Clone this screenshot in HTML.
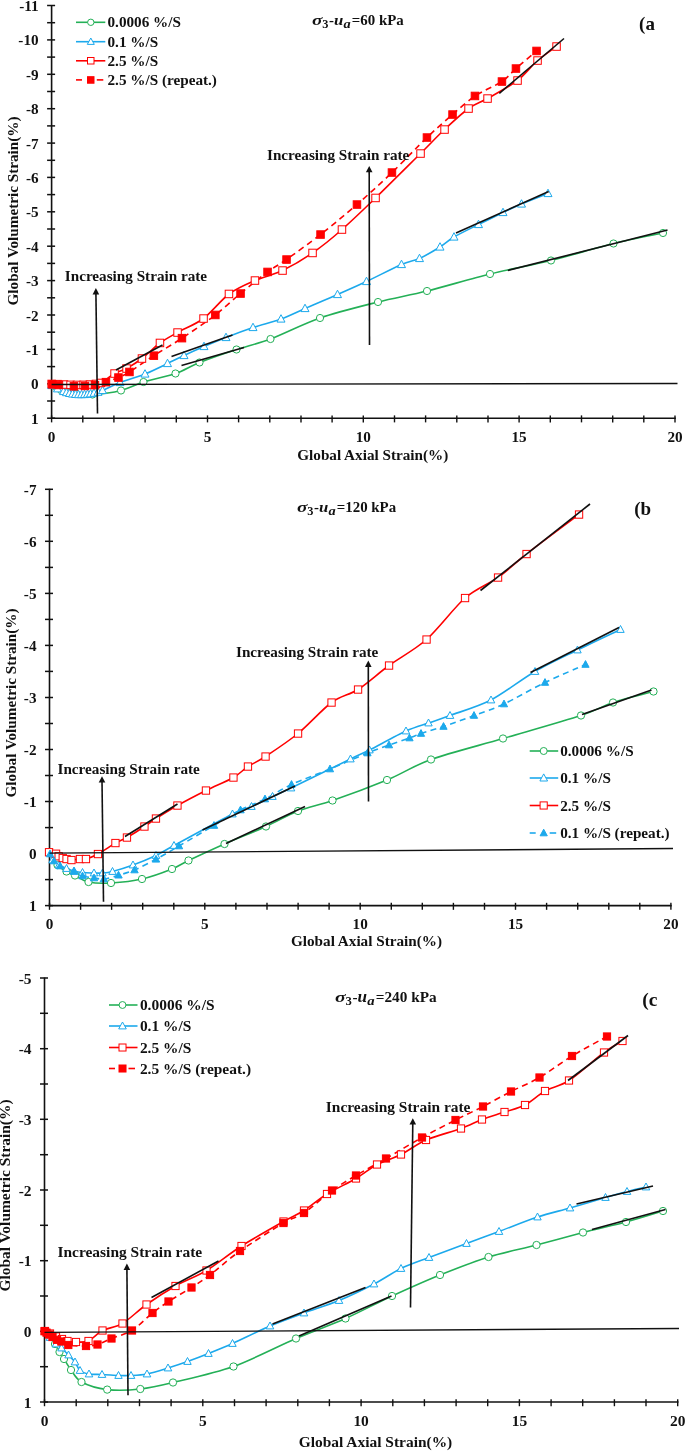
<!DOCTYPE html>
<html><head><meta charset="utf-8"><title>Strain rate figure</title>
<style>
html,body{margin:0;padding:0;background:#fff}
svg{display:block}
text{font-family:"Liberation Serif","DejaVu Serif",serif;font-weight:bold;fill:#111}
</style></head><body>
<svg width="685" height="1451" viewBox="0 0 685 1451">
<rect width="685" height="1451" fill="#fff"/>
<line x1="51.6" y1="5.0" x2="51.6" y2="418.98" stroke="#111" stroke-width="1.6"/>
<line x1="51.1" y1="418.18" x2="675.8000000000001" y2="418.18" stroke="#111" stroke-width="1.6"/>
<line x1="47.1" y1="5.5" x2="55.1" y2="5.5" stroke="#111" stroke-width="1.5"/>
<line x1="47.1" y1="22.7" x2="55.1" y2="22.7" stroke="#111" stroke-width="1.5"/>
<line x1="47.1" y1="39.9" x2="55.1" y2="39.9" stroke="#111" stroke-width="1.5"/>
<line x1="47.1" y1="57.1" x2="55.1" y2="57.1" stroke="#111" stroke-width="1.5"/>
<line x1="47.1" y1="74.3" x2="55.1" y2="74.3" stroke="#111" stroke-width="1.5"/>
<line x1="47.1" y1="91.5" x2="55.1" y2="91.5" stroke="#111" stroke-width="1.5"/>
<line x1="47.1" y1="108.7" x2="55.1" y2="108.7" stroke="#111" stroke-width="1.5"/>
<line x1="47.1" y1="125.9" x2="55.1" y2="125.9" stroke="#111" stroke-width="1.5"/>
<line x1="47.1" y1="143.1" x2="55.1" y2="143.1" stroke="#111" stroke-width="1.5"/>
<line x1="47.1" y1="160.3" x2="55.1" y2="160.3" stroke="#111" stroke-width="1.5"/>
<line x1="47.1" y1="177.4" x2="55.1" y2="177.4" stroke="#111" stroke-width="1.5"/>
<line x1="47.1" y1="194.6" x2="55.1" y2="194.6" stroke="#111" stroke-width="1.5"/>
<line x1="47.1" y1="211.8" x2="55.1" y2="211.8" stroke="#111" stroke-width="1.5"/>
<line x1="47.1" y1="229.0" x2="55.1" y2="229.0" stroke="#111" stroke-width="1.5"/>
<line x1="47.1" y1="246.2" x2="55.1" y2="246.2" stroke="#111" stroke-width="1.5"/>
<line x1="47.1" y1="263.4" x2="55.1" y2="263.4" stroke="#111" stroke-width="1.5"/>
<line x1="47.1" y1="280.6" x2="55.1" y2="280.6" stroke="#111" stroke-width="1.5"/>
<line x1="47.1" y1="297.8" x2="55.1" y2="297.8" stroke="#111" stroke-width="1.5"/>
<line x1="47.1" y1="315.0" x2="55.1" y2="315.0" stroke="#111" stroke-width="1.5"/>
<line x1="47.1" y1="332.2" x2="55.1" y2="332.2" stroke="#111" stroke-width="1.5"/>
<line x1="47.1" y1="349.4" x2="55.1" y2="349.4" stroke="#111" stroke-width="1.5"/>
<line x1="47.1" y1="366.6" x2="55.1" y2="366.6" stroke="#111" stroke-width="1.5"/>
<line x1="47.1" y1="383.8" x2="55.1" y2="383.8" stroke="#111" stroke-width="1.5"/>
<line x1="47.1" y1="401.0" x2="55.1" y2="401.0" stroke="#111" stroke-width="1.5"/>
<line x1="47.1" y1="418.2" x2="55.1" y2="418.2" stroke="#111" stroke-width="1.5"/>
<text x="38.6" y="11.0" font-size="15.2" text-anchor="end">-11</text>
<text x="38.6" y="45.4" font-size="15.2" text-anchor="end">-10</text>
<text x="38.6" y="79.8" font-size="15.2" text-anchor="end">-9</text>
<text x="38.6" y="114.2" font-size="15.2" text-anchor="end">-8</text>
<text x="38.6" y="148.6" font-size="15.2" text-anchor="end">-7</text>
<text x="38.6" y="182.9" font-size="15.2" text-anchor="end">-6</text>
<text x="38.6" y="217.3" font-size="15.2" text-anchor="end">-5</text>
<text x="38.6" y="251.7" font-size="15.2" text-anchor="end">-4</text>
<text x="38.6" y="286.1" font-size="15.2" text-anchor="end">-3</text>
<text x="38.6" y="320.5" font-size="15.2" text-anchor="end">-2</text>
<text x="38.6" y="354.9" font-size="15.2" text-anchor="end">-1</text>
<text x="38.6" y="389.3" font-size="15.2" text-anchor="end">0</text>
<text x="38.6" y="423.7" font-size="15.2" text-anchor="end">1</text>
<line x1="51.6" y1="415.38" x2="51.6" y2="422.38" stroke="#111" stroke-width="1.4"/>
<line x1="82.8" y1="415.38" x2="82.8" y2="422.38" stroke="#111" stroke-width="1.4"/>
<line x1="113.9" y1="415.38" x2="113.9" y2="422.38" stroke="#111" stroke-width="1.4"/>
<line x1="145.1" y1="415.38" x2="145.1" y2="422.38" stroke="#111" stroke-width="1.4"/>
<line x1="176.3" y1="415.38" x2="176.3" y2="422.38" stroke="#111" stroke-width="1.4"/>
<line x1="207.5" y1="415.38" x2="207.5" y2="422.38" stroke="#111" stroke-width="1.4"/>
<line x1="238.6" y1="415.38" x2="238.6" y2="422.38" stroke="#111" stroke-width="1.4"/>
<line x1="269.8" y1="415.38" x2="269.8" y2="422.38" stroke="#111" stroke-width="1.4"/>
<line x1="301.0" y1="415.38" x2="301.0" y2="422.38" stroke="#111" stroke-width="1.4"/>
<line x1="332.1" y1="415.38" x2="332.1" y2="422.38" stroke="#111" stroke-width="1.4"/>
<line x1="363.3" y1="415.38" x2="363.3" y2="422.38" stroke="#111" stroke-width="1.4"/>
<line x1="394.5" y1="415.38" x2="394.5" y2="422.38" stroke="#111" stroke-width="1.4"/>
<line x1="425.6" y1="415.38" x2="425.6" y2="422.38" stroke="#111" stroke-width="1.4"/>
<line x1="456.8" y1="415.38" x2="456.8" y2="422.38" stroke="#111" stroke-width="1.4"/>
<line x1="488.0" y1="415.38" x2="488.0" y2="422.38" stroke="#111" stroke-width="1.4"/>
<line x1="519.1" y1="415.38" x2="519.1" y2="422.38" stroke="#111" stroke-width="1.4"/>
<line x1="550.3" y1="415.38" x2="550.3" y2="422.38" stroke="#111" stroke-width="1.4"/>
<line x1="581.5" y1="415.38" x2="581.5" y2="422.38" stroke="#111" stroke-width="1.4"/>
<line x1="612.7" y1="415.38" x2="612.7" y2="422.38" stroke="#111" stroke-width="1.4"/>
<line x1="643.8" y1="415.38" x2="643.8" y2="422.38" stroke="#111" stroke-width="1.4"/>
<line x1="675.0" y1="415.38" x2="675.0" y2="422.38" stroke="#111" stroke-width="1.4"/>
<text x="51.6" y="442" font-size="15.2" text-anchor="middle">0</text>
<text x="207.5" y="442" font-size="15.2" text-anchor="middle">5</text>
<text x="363.3" y="442" font-size="15.2" text-anchor="middle">10</text>
<text x="519.1" y="442" font-size="15.2" text-anchor="middle">15</text>
<text x="675.0" y="442" font-size="15.2" text-anchor="middle">20</text>
<text x="372.8" y="459.7" font-size="15.2" text-anchor="middle">Global Axial Strain(%)</text>
<text transform="translate(17.8,211) rotate(-90)" font-size="15.2" text-anchor="middle">Global Volumetric Strain(%)</text>
<path d="M51.6,384.3 C52.3,384.7 54.6,386.1 56.0,387.0 C57.4,387.9 59.4,389.2 61.0,390.0 C62.6,390.8 64.8,391.8 67.0,392.3 C69.2,392.8 72.2,393.2 76.0,393.5 C79.8,393.8 85.8,394.9 92.5,394.5 C99.2,394.1 113.3,392.4 121.0,390.5 C128.7,388.6 135.3,384.6 143.5,382.0 C151.7,379.4 167.1,376.4 175.5,373.5 C183.9,370.6 190.3,366.1 199.5,362.5 C208.7,358.9 225.8,353.0 236.5,349.5 C247.2,346.0 258.0,343.7 270.5,339.0 C283.0,334.3 303.9,323.6 320.0,318.0 C336.1,312.4 361.9,306.1 378.0,302.0 C394.1,297.9 410.2,295.2 427.0,291.0 C443.8,286.8 471.4,278.6 490.0,274.0 C508.6,269.4 532.5,265.1 551.0,260.5 C569.5,255.9 596.7,247.6 613.5,243.5 C630.3,239.4 655.6,234.6 663.0,233.0" fill="none" stroke="#24b057" stroke-width="1.6" stroke-linejoin="round"/>
<path d="M51.6,385.5 C52.0,385.8 53.6,386.7 54.5,387.2 C55.4,387.7 56.6,388.3 57.5,388.8 C58.4,389.3 59.6,389.9 60.5,390.3 C61.4,390.7 62.6,391.2 63.5,391.5 C64.4,391.8 65.6,392.3 66.5,392.6 C67.4,392.9 68.6,393.2 69.5,393.4 C70.4,393.6 71.6,393.9 72.5,394.0 C73.4,394.1 74.6,394.3 75.5,394.4 C76.4,394.5 77.6,394.6 78.5,394.6 C79.4,394.6 80.6,394.6 81.5,394.6 C82.4,394.6 83.6,394.6 84.5,394.5 C85.4,394.4 86.6,394.3 87.5,394.2 C88.4,394.1 89.5,393.9 90.5,393.8 C91.5,393.7 92.9,393.4 94.0,393.2 C95.1,393.0 96.7,392.6 98.0,392.2 C99.3,391.8 99.2,392.0 102.5,390.5 C105.8,389.0 113.6,385.0 120.0,382.5 C126.4,380.0 137.9,376.9 145.0,374.0 C152.1,371.1 161.7,366.3 167.5,363.5 C173.3,360.7 178.5,358.1 184.0,355.5 C189.5,352.9 197.7,349.2 204.0,346.5 C210.3,343.8 218.7,340.4 226.0,337.5 C233.3,334.6 244.8,330.3 253.0,327.5 C261.2,324.7 273.2,321.9 281.0,319.0 C288.8,316.1 296.5,312.2 305.0,308.5 C313.5,304.8 328.3,298.6 337.5,294.5 C346.7,290.4 356.9,286.0 366.5,281.5 C376.1,277.0 393.6,267.9 401.5,264.5 C409.4,261.1 413.7,261.1 419.5,258.5 C425.3,255.9 434.8,250.2 440.0,247.0 C445.2,243.8 448.2,240.4 454.0,237.0 C459.8,233.6 471.1,228.2 478.5,224.5 C485.9,220.8 496.6,215.6 503.0,212.5 C509.4,209.4 514.8,206.8 521.5,204.0 C528.2,201.2 544.0,195.1 548.0,193.5" fill="none" stroke="#1ca9ec" stroke-width="1.6" stroke-linejoin="round"/>
<path d="M51.6,384.0 C52.3,384.0 54.6,384.0 56.0,384.0 C57.4,384.0 59.5,384.1 61.0,384.2 C62.5,384.3 64.5,384.4 66.0,384.5 C67.5,384.6 69.5,384.7 71.0,384.8 C72.5,384.9 74.5,385.0 76.0,385.0 C77.5,385.0 79.5,385.0 81.0,385.0 C82.5,385.0 84.5,384.9 86.0,384.8 C87.5,384.7 89.5,384.5 91.0,384.4 C92.5,384.3 94.5,384.2 96.0,384.0 C97.5,383.8 98.2,384.6 101.0,383.0 C103.8,381.4 110.7,375.7 114.5,373.5 C118.3,371.3 122.4,370.8 126.5,368.5 C130.6,366.2 137.0,362.3 142.0,358.5 C147.0,354.7 154.7,346.9 160.0,343.0 C165.3,339.1 171.0,336.2 177.5,332.5 C184.0,328.8 195.8,324.3 203.5,318.5 C211.2,312.7 221.3,299.7 229.0,294.0 C236.7,288.3 247.0,284.0 255.0,280.5 C263.0,277.0 273.9,274.6 282.5,270.5 C291.1,266.4 303.6,259.1 312.5,253.0 C321.4,246.8 332.6,237.8 342.0,229.5 C351.4,221.2 363.7,209.4 375.5,198.0 C387.3,186.6 410.1,163.8 420.5,153.5 C430.9,143.2 437.3,136.2 444.5,129.5 C451.7,122.8 462.1,113.2 468.5,108.5 C474.9,103.8 480.1,102.7 487.5,98.5 C494.9,94.3 510.0,86.2 517.5,80.5 C525.0,74.8 531.6,65.6 537.5,60.5 C543.4,55.4 553.6,48.6 556.5,46.5" fill="none" stroke="#ff0000" stroke-width="1.6" stroke-linejoin="round"/>
<path d="M52.4,384.4 C52.9,384.4 54.9,384.5 56.0,384.6 C57.1,384.7 58.6,384.9 60.0,385.0 C61.4,385.1 63.5,385.2 65.0,385.3 C66.5,385.4 68.5,385.4 70.0,385.6 C71.5,385.8 73.7,386.4 75.3,386.6 C76.9,386.8 78.9,386.8 80.5,386.8 C82.1,386.8 84.5,386.7 86.0,386.6 C87.5,386.5 89.2,386.2 90.5,386.0 C91.8,385.8 93.2,385.7 94.6,385.4 C96.0,385.1 98.3,384.5 100.0,384.0 C101.7,383.5 103.0,383.2 105.8,382.2 C108.6,381.2 114.9,379.0 118.4,377.5 C121.9,376.0 124.1,375.3 129.4,372.0 C134.7,368.7 145.9,360.7 153.8,355.6 C161.7,350.5 172.8,344.3 182.0,338.2 C191.2,332.1 206.5,321.7 215.3,315.0 C224.1,308.3 232.7,299.9 240.5,293.5 C248.3,287.1 260.6,277.1 267.5,272.0 C274.4,266.9 278.6,265.1 286.5,259.5 C294.4,253.9 309.9,242.8 320.5,234.5 C331.1,226.2 346.3,213.8 357.0,204.5 C367.7,195.2 381.5,182.6 392.0,172.5 C402.5,162.4 417.9,146.2 427.0,137.5 C436.1,128.8 445.3,120.7 452.5,114.5 C459.7,108.3 467.6,101.0 475.0,96.0 C482.4,91.0 495.9,85.6 502.0,81.5 C508.1,77.4 510.8,73.1 516.0,68.5 C521.2,63.9 533.4,53.6 536.5,51.0" fill="none" stroke="#ff0000" stroke-width="1.6" stroke-linejoin="round" stroke-dasharray="6,4.3"/>
<circle cx="51.6" cy="384.3" r="3.6" fill="#fff" stroke="#24b057" stroke-width="1"/>
<circle cx="56.0" cy="387.0" r="3.6" fill="#fff" stroke="#24b057" stroke-width="1"/>
<circle cx="61.0" cy="390.0" r="3.6" fill="#fff" stroke="#24b057" stroke-width="1"/>
<circle cx="67.0" cy="392.3" r="3.6" fill="#fff" stroke="#24b057" stroke-width="1"/>
<circle cx="76.0" cy="393.5" r="3.6" fill="#fff" stroke="#24b057" stroke-width="1"/>
<circle cx="92.5" cy="394.5" r="3.6" fill="#fff" stroke="#24b057" stroke-width="1"/>
<circle cx="121.0" cy="390.5" r="3.6" fill="#fff" stroke="#24b057" stroke-width="1"/>
<circle cx="143.5" cy="382.0" r="3.6" fill="#fff" stroke="#24b057" stroke-width="1"/>
<circle cx="175.5" cy="373.5" r="3.6" fill="#fff" stroke="#24b057" stroke-width="1"/>
<circle cx="199.5" cy="362.5" r="3.6" fill="#fff" stroke="#24b057" stroke-width="1"/>
<circle cx="236.5" cy="349.5" r="3.6" fill="#fff" stroke="#24b057" stroke-width="1"/>
<circle cx="270.5" cy="339.0" r="3.6" fill="#fff" stroke="#24b057" stroke-width="1"/>
<circle cx="320.0" cy="318.0" r="3.6" fill="#fff" stroke="#24b057" stroke-width="1"/>
<circle cx="378.0" cy="302.0" r="3.6" fill="#fff" stroke="#24b057" stroke-width="1"/>
<circle cx="427.0" cy="291.0" r="3.6" fill="#fff" stroke="#24b057" stroke-width="1"/>
<circle cx="490.0" cy="274.0" r="3.6" fill="#fff" stroke="#24b057" stroke-width="1"/>
<circle cx="551.0" cy="260.5" r="3.6" fill="#fff" stroke="#24b057" stroke-width="1"/>
<circle cx="613.5" cy="243.5" r="3.6" fill="#fff" stroke="#24b057" stroke-width="1"/>
<circle cx="663.0" cy="233.0" r="3.6" fill="#fff" stroke="#24b057" stroke-width="1"/>
<polygon points="51.6,381.2 47.6,388.6 55.6,388.6" fill="#fff" stroke="#1ca9ec" stroke-width="1" stroke-linejoin="miter"/>
<polygon points="57.5,384.5 53.5,391.9 61.5,391.9" fill="#fff" stroke="#1ca9ec" stroke-width="1" stroke-linejoin="miter"/>
<polygon points="63.5,387.2 59.5,394.6 67.5,394.6" fill="#fff" stroke="#1ca9ec" stroke-width="1" stroke-linejoin="miter"/>
<polygon points="66.5,388.3 62.5,395.7 70.5,395.7" fill="#fff" stroke="#1ca9ec" stroke-width="1" stroke-linejoin="miter"/>
<polygon points="69.5,389.1 65.5,396.5 73.5,396.5" fill="#fff" stroke="#1ca9ec" stroke-width="1" stroke-linejoin="miter"/>
<polygon points="72.5,389.7 68.5,397.1 76.5,397.1" fill="#fff" stroke="#1ca9ec" stroke-width="1" stroke-linejoin="miter"/>
<polygon points="75.5,390.1 71.5,397.5 79.5,397.5" fill="#fff" stroke="#1ca9ec" stroke-width="1" stroke-linejoin="miter"/>
<polygon points="78.5,390.3 74.5,397.7 82.5,397.7" fill="#fff" stroke="#1ca9ec" stroke-width="1" stroke-linejoin="miter"/>
<polygon points="81.5,390.3 77.5,397.7 85.5,397.7" fill="#fff" stroke="#1ca9ec" stroke-width="1" stroke-linejoin="miter"/>
<polygon points="84.5,390.2 80.5,397.6 88.5,397.6" fill="#fff" stroke="#1ca9ec" stroke-width="1" stroke-linejoin="miter"/>
<polygon points="87.5,389.9 83.5,397.3 91.5,397.3" fill="#fff" stroke="#1ca9ec" stroke-width="1" stroke-linejoin="miter"/>
<polygon points="90.5,389.5 86.5,396.9 94.5,396.9" fill="#fff" stroke="#1ca9ec" stroke-width="1" stroke-linejoin="miter"/>
<polygon points="94.0,388.9 90.0,396.3 98.0,396.3" fill="#fff" stroke="#1ca9ec" stroke-width="1" stroke-linejoin="miter"/>
<polygon points="98.0,387.9 94.0,395.3 102.0,395.3" fill="#fff" stroke="#1ca9ec" stroke-width="1" stroke-linejoin="miter"/>
<polygon points="102.5,386.2 98.5,393.6 106.5,393.6" fill="#fff" stroke="#1ca9ec" stroke-width="1" stroke-linejoin="miter"/>
<polygon points="120.0,378.2 116.0,385.6 124.0,385.6" fill="#fff" stroke="#1ca9ec" stroke-width="1" stroke-linejoin="miter"/>
<polygon points="145.0,369.7 141.0,377.1 149.0,377.1" fill="#fff" stroke="#1ca9ec" stroke-width="1" stroke-linejoin="miter"/>
<polygon points="167.5,359.2 163.5,366.6 171.5,366.6" fill="#fff" stroke="#1ca9ec" stroke-width="1" stroke-linejoin="miter"/>
<polygon points="184.0,351.2 180.0,358.6 188.0,358.6" fill="#fff" stroke="#1ca9ec" stroke-width="1" stroke-linejoin="miter"/>
<polygon points="204.0,342.2 200.0,349.6 208.0,349.6" fill="#fff" stroke="#1ca9ec" stroke-width="1" stroke-linejoin="miter"/>
<polygon points="226.0,333.2 222.0,340.6 230.0,340.6" fill="#fff" stroke="#1ca9ec" stroke-width="1" stroke-linejoin="miter"/>
<polygon points="253.0,323.2 249.0,330.6 257.0,330.6" fill="#fff" stroke="#1ca9ec" stroke-width="1" stroke-linejoin="miter"/>
<polygon points="281.0,314.7 277.0,322.1 285.0,322.1" fill="#fff" stroke="#1ca9ec" stroke-width="1" stroke-linejoin="miter"/>
<polygon points="305.0,304.2 301.0,311.6 309.0,311.6" fill="#fff" stroke="#1ca9ec" stroke-width="1" stroke-linejoin="miter"/>
<polygon points="337.5,290.2 333.5,297.6 341.5,297.6" fill="#fff" stroke="#1ca9ec" stroke-width="1" stroke-linejoin="miter"/>
<polygon points="366.5,277.2 362.5,284.6 370.5,284.6" fill="#fff" stroke="#1ca9ec" stroke-width="1" stroke-linejoin="miter"/>
<polygon points="401.5,260.2 397.5,267.6 405.5,267.6" fill="#fff" stroke="#1ca9ec" stroke-width="1" stroke-linejoin="miter"/>
<polygon points="419.5,254.2 415.5,261.6 423.5,261.6" fill="#fff" stroke="#1ca9ec" stroke-width="1" stroke-linejoin="miter"/>
<polygon points="440.0,242.7 436.0,250.1 444.0,250.1" fill="#fff" stroke="#1ca9ec" stroke-width="1" stroke-linejoin="miter"/>
<polygon points="454.0,232.7 450.0,240.1 458.0,240.1" fill="#fff" stroke="#1ca9ec" stroke-width="1" stroke-linejoin="miter"/>
<polygon points="478.5,220.2 474.5,227.6 482.5,227.6" fill="#fff" stroke="#1ca9ec" stroke-width="1" stroke-linejoin="miter"/>
<polygon points="503.0,208.2 499.0,215.6 507.0,215.6" fill="#fff" stroke="#1ca9ec" stroke-width="1" stroke-linejoin="miter"/>
<polygon points="521.5,199.7 517.5,207.1 525.5,207.1" fill="#fff" stroke="#1ca9ec" stroke-width="1" stroke-linejoin="miter"/>
<polygon points="548.0,189.2 544.0,196.6 552.0,196.6" fill="#fff" stroke="#1ca9ec" stroke-width="1" stroke-linejoin="miter"/>
<rect x="47.9" y="380.2" width="7.5" height="7.5" fill="#fff" stroke="#ff0000" stroke-width="1"/>
<rect x="53.8" y="380.4" width="7.5" height="7.5" fill="#fff" stroke="#ff0000" stroke-width="1"/>
<rect x="60.2" y="380.8" width="7.5" height="7.5" fill="#fff" stroke="#ff0000" stroke-width="1"/>
<rect x="66.8" y="381.1" width="7.5" height="7.5" fill="#fff" stroke="#ff0000" stroke-width="1"/>
<rect x="73.2" y="381.2" width="7.5" height="7.5" fill="#fff" stroke="#ff0000" stroke-width="1"/>
<rect x="79.8" y="381.1" width="7.5" height="7.5" fill="#fff" stroke="#ff0000" stroke-width="1"/>
<rect x="86.2" y="380.8" width="7.5" height="7.5" fill="#fff" stroke="#ff0000" stroke-width="1"/>
<rect x="92.2" y="380.2" width="7.5" height="7.5" fill="#fff" stroke="#ff0000" stroke-width="1"/>
<rect x="97.2" y="379.2" width="7.5" height="7.5" fill="#fff" stroke="#ff0000" stroke-width="1"/>
<rect x="110.8" y="369.8" width="7.5" height="7.5" fill="#fff" stroke="#ff0000" stroke-width="1"/>
<rect x="122.8" y="364.8" width="7.5" height="7.5" fill="#fff" stroke="#ff0000" stroke-width="1"/>
<rect x="138.2" y="354.8" width="7.5" height="7.5" fill="#fff" stroke="#ff0000" stroke-width="1"/>
<rect x="156.2" y="339.2" width="7.5" height="7.5" fill="#fff" stroke="#ff0000" stroke-width="1"/>
<rect x="173.8" y="328.8" width="7.5" height="7.5" fill="#fff" stroke="#ff0000" stroke-width="1"/>
<rect x="199.8" y="314.8" width="7.5" height="7.5" fill="#fff" stroke="#ff0000" stroke-width="1"/>
<rect x="225.2" y="290.2" width="7.5" height="7.5" fill="#fff" stroke="#ff0000" stroke-width="1"/>
<rect x="251.2" y="276.8" width="7.5" height="7.5" fill="#fff" stroke="#ff0000" stroke-width="1"/>
<rect x="278.8" y="266.8" width="7.5" height="7.5" fill="#fff" stroke="#ff0000" stroke-width="1"/>
<rect x="308.8" y="249.2" width="7.5" height="7.5" fill="#fff" stroke="#ff0000" stroke-width="1"/>
<rect x="338.2" y="225.8" width="7.5" height="7.5" fill="#fff" stroke="#ff0000" stroke-width="1"/>
<rect x="371.8" y="194.2" width="7.5" height="7.5" fill="#fff" stroke="#ff0000" stroke-width="1"/>
<rect x="416.8" y="149.8" width="7.5" height="7.5" fill="#fff" stroke="#ff0000" stroke-width="1"/>
<rect x="440.8" y="125.8" width="7.5" height="7.5" fill="#fff" stroke="#ff0000" stroke-width="1"/>
<rect x="464.8" y="104.8" width="7.5" height="7.5" fill="#fff" stroke="#ff0000" stroke-width="1"/>
<rect x="483.8" y="94.8" width="7.5" height="7.5" fill="#fff" stroke="#ff0000" stroke-width="1"/>
<rect x="513.8" y="76.8" width="7.5" height="7.5" fill="#fff" stroke="#ff0000" stroke-width="1"/>
<rect x="533.8" y="56.8" width="7.5" height="7.5" fill="#fff" stroke="#ff0000" stroke-width="1"/>
<rect x="552.8" y="42.8" width="7.5" height="7.5" fill="#fff" stroke="#ff0000" stroke-width="1"/>
<rect x="48.6" y="380.6" width="7.5" height="7.5" fill="#ff0000" stroke="#ff0000" stroke-width="1"/>
<rect x="55.2" y="381.2" width="7.5" height="7.5" fill="#ff0000" stroke="#ff0000" stroke-width="1"/>
<rect x="70.2" y="382.6" width="7.5" height="7.5" fill="#ff0000" stroke="#ff0000" stroke-width="1"/>
<rect x="81.2" y="382.2" width="7.5" height="7.5" fill="#ff0000" stroke="#ff0000" stroke-width="1"/>
<rect x="91.2" y="381.4" width="7.5" height="7.5" fill="#ff0000" stroke="#ff0000" stroke-width="1"/>
<rect x="102.2" y="378.4" width="7.5" height="7.5" fill="#ff0000" stroke="#ff0000" stroke-width="1"/>
<rect x="114.7" y="373.8" width="7.5" height="7.5" fill="#ff0000" stroke="#ff0000" stroke-width="1"/>
<rect x="125.7" y="368.2" width="7.5" height="7.5" fill="#ff0000" stroke="#ff0000" stroke-width="1"/>
<rect x="150.1" y="351.9" width="7.5" height="7.5" fill="#ff0000" stroke="#ff0000" stroke-width="1"/>
<rect x="178.2" y="334.4" width="7.5" height="7.5" fill="#ff0000" stroke="#ff0000" stroke-width="1"/>
<rect x="211.6" y="311.2" width="7.5" height="7.5" fill="#ff0000" stroke="#ff0000" stroke-width="1"/>
<rect x="236.8" y="289.8" width="7.5" height="7.5" fill="#ff0000" stroke="#ff0000" stroke-width="1"/>
<rect x="263.8" y="268.2" width="7.5" height="7.5" fill="#ff0000" stroke="#ff0000" stroke-width="1"/>
<rect x="282.8" y="255.8" width="7.5" height="7.5" fill="#ff0000" stroke="#ff0000" stroke-width="1"/>
<rect x="316.8" y="230.8" width="7.5" height="7.5" fill="#ff0000" stroke="#ff0000" stroke-width="1"/>
<rect x="353.2" y="200.8" width="7.5" height="7.5" fill="#ff0000" stroke="#ff0000" stroke-width="1"/>
<rect x="388.2" y="168.8" width="7.5" height="7.5" fill="#ff0000" stroke="#ff0000" stroke-width="1"/>
<rect x="423.2" y="133.8" width="7.5" height="7.5" fill="#ff0000" stroke="#ff0000" stroke-width="1"/>
<rect x="448.8" y="110.8" width="7.5" height="7.5" fill="#ff0000" stroke="#ff0000" stroke-width="1"/>
<rect x="471.2" y="92.2" width="7.5" height="7.5" fill="#ff0000" stroke="#ff0000" stroke-width="1"/>
<rect x="498.2" y="77.8" width="7.5" height="7.5" fill="#ff0000" stroke="#ff0000" stroke-width="1"/>
<rect x="512.2" y="64.8" width="7.5" height="7.5" fill="#ff0000" stroke="#ff0000" stroke-width="1"/>
<rect x="532.8" y="47.2" width="7.5" height="7.5" fill="#ff0000" stroke="#ff0000" stroke-width="1"/>
<line x1="116" y1="370" x2="162.5" y2="345" stroke="#111" stroke-width="1.6"/>
<line x1="171.5" y1="356.5" x2="232.5" y2="335" stroke="#111" stroke-width="1.6"/>
<line x1="181.5" y1="365.5" x2="244" y2="347.5" stroke="#111" stroke-width="1.6"/>
<line x1="499.3" y1="93.4" x2="564" y2="38.5" stroke="#111" stroke-width="1.6"/>
<line x1="456" y1="233" x2="548.7" y2="191.5" stroke="#111" stroke-width="1.6"/>
<line x1="507.8" y1="270.5" x2="667.5" y2="230" stroke="#111" stroke-width="1.6"/>
<line x1="51.6" y1="384.5" x2="677.5" y2="383.5" stroke="#111" stroke-width="1.3"/>
<line x1="97.5" y1="413.5" x2="95.9" y2="292.1" stroke="#111" stroke-width="1.6"/>
<polygon points="95.9,288.1 92.60000000000001,294.40000000000003 99.2,294.40000000000003" fill="#111"/>
<line x1="369.5" y1="345" x2="369.2" y2="170" stroke="#111" stroke-width="1.6"/>
<polygon points="369.2,166 365.9,172.3 372.5,172.3" fill="#111"/>
<text x="64.8" y="281" font-size="15.2" text-anchor="start">Increasing Strain rate</text>
<text x="267" y="160" font-size="15.2" text-anchor="start">Increasing Strain rate</text>
<g transform="translate(312,25.2) scale(1.0)">
<text x="0" y="0" font-size="15" font-style="italic" textLength="10.4" lengthAdjust="spacingAndGlyphs">σ</text>
<text x="10.3" y="2.8" font-size="12.3" textLength="6.2" lengthAdjust="spacingAndGlyphs">3</text>
<text x="17" y="0" font-size="14.9">-</text>
<text x="22" y="0" font-size="15.5" font-style="italic" textLength="9.3" lengthAdjust="spacingAndGlyphs">u</text>
<text x="31.6" y="2.8" font-size="11.5" font-style="italic" textLength="7.2" lengthAdjust="spacingAndGlyphs">a</text>
<text x="39.8" y="0" font-size="14.9">=60 kPa</text>
</g>
<text x="639.1" y="29.9" font-size="19" text-anchor="start">(a</text>
<line x1="76" y1="22.3" x2="105.3" y2="22.3" stroke="#24b057" stroke-width="1.6"/>
<circle cx="90.8" cy="22.3" r="3.2" fill="#fff" stroke="#24b057" stroke-width="1"/>
<text x="107.5" y="27.3" font-size="15.2" text-anchor="start">0.0006 %/S</text>
<line x1="76" y1="41.7" x2="105.3" y2="41.7" stroke="#1ca9ec" stroke-width="1.6"/>
<polygon points="90.8,38.0 87.3,44.4 94.3,44.4" fill="#fff" stroke="#1ca9ec" stroke-width="1" stroke-linejoin="miter"/>
<text x="107.5" y="46.7" font-size="15.2" text-anchor="start">0.1 %/S</text>
<line x1="76" y1="60.8" x2="105.3" y2="60.8" stroke="#ff0000" stroke-width="1.6"/>
<rect x="87.5" y="57.5" width="6.5" height="6.5" fill="#fff" stroke="#ff0000" stroke-width="1"/>
<text x="107.5" y="65.8" font-size="15.2" text-anchor="start">2.5 %/S</text>
<line x1="76" y1="79.9" x2="82" y2="79.9" stroke="#ff0000" stroke-width="1.6"/>
<line x1="96.8" y1="79.9" x2="103.3" y2="79.9" stroke="#ff0000" stroke-width="1.6"/>
<rect x="87.5" y="76.7" width="6.5" height="6.5" fill="#ff0000" stroke="#ff0000" stroke-width="1"/>
<text x="107.5" y="84.9" font-size="15.2" text-anchor="start">2.5 %/S (repeat.)</text>
<line x1="49.5" y1="488.8" x2="49.5" y2="906.42" stroke="#111" stroke-width="1.6"/>
<line x1="49.0" y1="905.62" x2="671.6999999999999" y2="905.62" stroke="#111" stroke-width="1.6"/>
<line x1="45.0" y1="489.3" x2="53.0" y2="489.3" stroke="#111" stroke-width="1.5"/>
<line x1="45.0" y1="515.3" x2="53.0" y2="515.3" stroke="#111" stroke-width="1.5"/>
<line x1="45.0" y1="541.3" x2="53.0" y2="541.3" stroke="#111" stroke-width="1.5"/>
<line x1="45.0" y1="567.4" x2="53.0" y2="567.4" stroke="#111" stroke-width="1.5"/>
<line x1="45.0" y1="593.4" x2="53.0" y2="593.4" stroke="#111" stroke-width="1.5"/>
<line x1="45.0" y1="619.4" x2="53.0" y2="619.4" stroke="#111" stroke-width="1.5"/>
<line x1="45.0" y1="645.4" x2="53.0" y2="645.4" stroke="#111" stroke-width="1.5"/>
<line x1="45.0" y1="671.4" x2="53.0" y2="671.4" stroke="#111" stroke-width="1.5"/>
<line x1="45.0" y1="697.5" x2="53.0" y2="697.5" stroke="#111" stroke-width="1.5"/>
<line x1="45.0" y1="723.5" x2="53.0" y2="723.5" stroke="#111" stroke-width="1.5"/>
<line x1="45.0" y1="749.5" x2="53.0" y2="749.5" stroke="#111" stroke-width="1.5"/>
<line x1="45.0" y1="775.5" x2="53.0" y2="775.5" stroke="#111" stroke-width="1.5"/>
<line x1="45.0" y1="801.5" x2="53.0" y2="801.5" stroke="#111" stroke-width="1.5"/>
<line x1="45.0" y1="827.6" x2="53.0" y2="827.6" stroke="#111" stroke-width="1.5"/>
<line x1="45.0" y1="853.6" x2="53.0" y2="853.6" stroke="#111" stroke-width="1.5"/>
<line x1="45.0" y1="879.6" x2="53.0" y2="879.6" stroke="#111" stroke-width="1.5"/>
<line x1="45.0" y1="905.6" x2="53.0" y2="905.6" stroke="#111" stroke-width="1.5"/>
<text x="36.5" y="494.8" font-size="15.2" text-anchor="end">-7</text>
<text x="36.5" y="546.8" font-size="15.2" text-anchor="end">-6</text>
<text x="36.5" y="598.9" font-size="15.2" text-anchor="end">-5</text>
<text x="36.5" y="650.9" font-size="15.2" text-anchor="end">-4</text>
<text x="36.5" y="703.0" font-size="15.2" text-anchor="end">-3</text>
<text x="36.5" y="755.0" font-size="15.2" text-anchor="end">-2</text>
<text x="36.5" y="807.0" font-size="15.2" text-anchor="end">-1</text>
<text x="36.5" y="859.1" font-size="15.2" text-anchor="end">0</text>
<text x="36.5" y="911.1" font-size="15.2" text-anchor="end">1</text>
<line x1="49.5" y1="902.82" x2="49.5" y2="909.82" stroke="#111" stroke-width="1.4"/>
<line x1="80.6" y1="902.82" x2="80.6" y2="909.82" stroke="#111" stroke-width="1.4"/>
<line x1="111.6" y1="902.82" x2="111.6" y2="909.82" stroke="#111" stroke-width="1.4"/>
<line x1="142.7" y1="902.82" x2="142.7" y2="909.82" stroke="#111" stroke-width="1.4"/>
<line x1="173.8" y1="902.82" x2="173.8" y2="909.82" stroke="#111" stroke-width="1.4"/>
<line x1="204.8" y1="902.82" x2="204.8" y2="909.82" stroke="#111" stroke-width="1.4"/>
<line x1="235.9" y1="902.82" x2="235.9" y2="909.82" stroke="#111" stroke-width="1.4"/>
<line x1="267.0" y1="902.82" x2="267.0" y2="909.82" stroke="#111" stroke-width="1.4"/>
<line x1="298.1" y1="902.82" x2="298.1" y2="909.82" stroke="#111" stroke-width="1.4"/>
<line x1="329.1" y1="902.82" x2="329.1" y2="909.82" stroke="#111" stroke-width="1.4"/>
<line x1="360.2" y1="902.82" x2="360.2" y2="909.82" stroke="#111" stroke-width="1.4"/>
<line x1="391.3" y1="902.82" x2="391.3" y2="909.82" stroke="#111" stroke-width="1.4"/>
<line x1="422.3" y1="902.82" x2="422.3" y2="909.82" stroke="#111" stroke-width="1.4"/>
<line x1="453.4" y1="902.82" x2="453.4" y2="909.82" stroke="#111" stroke-width="1.4"/>
<line x1="484.5" y1="902.82" x2="484.5" y2="909.82" stroke="#111" stroke-width="1.4"/>
<line x1="515.5" y1="902.82" x2="515.5" y2="909.82" stroke="#111" stroke-width="1.4"/>
<line x1="546.6" y1="902.82" x2="546.6" y2="909.82" stroke="#111" stroke-width="1.4"/>
<line x1="577.7" y1="902.82" x2="577.7" y2="909.82" stroke="#111" stroke-width="1.4"/>
<line x1="608.8" y1="902.82" x2="608.8" y2="909.82" stroke="#111" stroke-width="1.4"/>
<line x1="639.8" y1="902.82" x2="639.8" y2="909.82" stroke="#111" stroke-width="1.4"/>
<line x1="670.9" y1="902.82" x2="670.9" y2="909.82" stroke="#111" stroke-width="1.4"/>
<text x="49.5" y="928.5" font-size="15.2" text-anchor="middle">0</text>
<text x="204.8" y="928.5" font-size="15.2" text-anchor="middle">5</text>
<text x="360.2" y="928.5" font-size="15.2" text-anchor="middle">10</text>
<text x="515.5" y="928.5" font-size="15.2" text-anchor="middle">15</text>
<text x="670.9" y="928.5" font-size="15.2" text-anchor="middle">20</text>
<text x="366.5" y="945.6" font-size="15.2" text-anchor="middle">Global Axial Strain(%)</text>
<text transform="translate(15.8,703) rotate(-90)" font-size="15.2" text-anchor="middle">Global Volumetric Strain(%)</text>
<path d="M49.6,852.5 C50.8,854.4 55.0,862.1 57.5,865.0 C60.0,867.9 63.9,869.9 66.5,871.5 C69.1,873.1 71.7,873.9 75.0,875.5 C78.3,877.1 83.1,880.9 88.5,882.0 C93.9,883.1 103.0,883.5 111.0,883.0 C119.0,882.5 132.8,881.1 142.0,879.0 C151.2,876.9 165.0,871.8 172.0,869.0 C179.0,866.2 180.6,864.2 188.5,860.5 C196.4,856.8 212.9,849.1 224.5,844.0 C236.1,838.9 255.0,831.5 266.0,826.5 C277.0,821.5 288.0,814.9 298.0,811.0 C308.0,807.1 319.1,805.1 332.5,800.5 C345.9,795.9 372.2,786.1 387.0,780.0 C401.8,773.9 413.6,765.7 431.0,759.5 C448.4,753.3 480.5,745.1 503.0,738.5 C525.5,731.9 564.5,720.9 581.0,715.5 C597.5,710.1 602.1,706.1 613.0,702.5 C623.9,698.9 647.4,693.1 653.5,691.5" fill="none" stroke="#24b057" stroke-width="1.6" stroke-linejoin="round"/>
<path d="M49.6,852.5 C50.0,853.6 51.1,858.1 52.5,860.0 C53.9,861.9 56.9,863.7 59.0,865.0 C61.1,866.3 64.2,867.6 66.5,868.5 C68.8,869.4 71.6,870.4 74.0,871.0 C76.4,871.6 79.5,872.2 82.5,872.5 C85.5,872.8 91.0,872.9 94.0,873.0 C97.0,873.1 99.7,873.2 102.5,873.0 C105.3,872.8 107.9,872.7 112.5,871.5 C117.1,870.3 126.5,867.4 133.0,865.0 C139.5,862.6 149.8,858.4 156.0,855.5 C162.2,852.6 162.5,851.7 174.0,845.5 C185.5,839.3 220.9,819.9 232.5,814.0 C244.1,808.1 245.5,809.1 251.5,806.5 C257.5,803.9 266.6,799.3 272.5,796.5 C278.4,793.7 279.3,793.6 291.0,788.0 C302.7,782.4 338.7,764.7 350.5,759.0 C362.3,753.3 361.2,754.2 369.5,750.0 C377.8,745.8 397.1,735.0 406.0,731.0 C414.9,727.0 421.9,725.3 428.5,723.0 C435.1,720.7 440.6,719.0 450.0,715.5 C459.4,712.0 478.2,706.6 491.0,700.0 C503.8,693.4 522.0,679.0 535.0,671.5 C548.0,664.0 564.7,656.3 577.5,650.0 C590.3,643.7 614.0,632.6 620.5,629.5" fill="none" stroke="#1ca9ec" stroke-width="1.6" stroke-linejoin="round"/>
<path d="M49.0,852.3 C50.0,852.5 54.6,853.2 56.0,853.8 C57.4,854.4 57.6,855.6 58.6,856.2 C59.6,856.8 61.6,857.6 62.8,858.0 C64.0,858.4 65.2,858.7 66.5,859.0 C67.8,859.3 69.5,860.0 71.5,860.0 C73.5,860.0 77.8,859.1 80.0,859.0 C82.2,858.9 83.3,859.8 86.0,859.0 C88.7,858.2 93.6,856.4 98.0,854.0 C102.4,851.6 111.2,845.5 115.5,843.0 C119.8,840.5 122.7,840.0 127.0,837.5 C131.3,835.0 140.2,829.4 144.5,826.5 C148.8,823.6 151.1,821.6 156.0,818.5 C160.9,815.4 170.0,809.7 177.5,805.5 C185.0,801.3 197.6,794.7 206.0,790.5 C214.4,786.3 227.2,781.1 233.5,777.5 C239.8,773.9 243.2,769.6 248.0,766.5 C252.8,763.4 258.0,761.5 265.5,756.5 C273.0,751.5 288.1,741.6 298.0,733.5 C307.9,725.4 322.5,709.1 331.5,702.5 C340.5,695.9 349.4,695.0 358.0,689.5 C366.6,684.0 378.7,673.0 389.0,665.5 C399.3,658.0 415.1,649.6 426.5,639.5 C437.9,629.4 454.3,607.3 465.0,598.0 C475.7,588.7 488.8,584.1 498.0,577.5 C507.2,570.9 514.4,563.5 526.5,554.0 C538.6,544.5 571.1,520.4 579.0,514.5" fill="none" stroke="#ff0000" stroke-width="1.6" stroke-linejoin="round"/>
<path d="M50.0,854.0 C50.6,855.0 52.5,859.2 54.0,861.0 C55.5,862.8 57.0,864.4 60.0,866.0 C63.0,867.6 70.6,870.0 74.0,871.5 C77.4,873.0 79.5,875.0 82.5,876.0 C85.5,877.0 90.8,877.5 94.0,878.0 C97.2,878.5 100.1,879.4 103.8,879.0 C107.5,878.6 113.9,876.6 118.5,875.2 C123.1,873.9 128.9,872.4 134.5,870.0 C140.1,867.6 149.3,862.9 156.0,859.3 C162.7,855.7 170.3,851.1 179.0,846.0 C187.7,840.9 204.8,830.9 214.0,825.5 C223.2,820.1 232.8,814.0 240.5,810.0 C248.2,806.0 257.4,802.8 265.0,799.0 C272.6,795.2 281.8,789.0 291.5,784.5 C301.2,780.0 318.6,773.7 330.0,769.0 C341.4,764.3 358.6,756.6 367.5,753.0 C376.4,749.4 382.7,747.2 389.0,745.0 C395.3,742.8 404.7,739.7 409.5,738.0 C414.3,736.3 415.9,735.2 421.0,733.5 C426.1,731.8 435.6,729.2 443.5,726.5 C451.4,723.8 464.9,718.9 474.0,715.5 C483.1,712.1 493.4,709.0 504.0,704.0 C514.6,699.0 532.8,688.4 545.0,682.5 C557.2,676.6 579.4,667.2 585.5,664.5" fill="none" stroke="#1ca9ec" stroke-width="1.6" stroke-linejoin="round" stroke-dasharray="6,4.3"/>
<circle cx="49.6" cy="852.5" r="3.65" fill="#fff" stroke="#24b057" stroke-width="1"/>
<circle cx="57.5" cy="865.0" r="3.65" fill="#fff" stroke="#24b057" stroke-width="1"/>
<circle cx="66.5" cy="871.5" r="3.65" fill="#fff" stroke="#24b057" stroke-width="1"/>
<circle cx="75.0" cy="875.5" r="3.65" fill="#fff" stroke="#24b057" stroke-width="1"/>
<circle cx="88.5" cy="882.0" r="3.65" fill="#fff" stroke="#24b057" stroke-width="1"/>
<circle cx="111.0" cy="883.0" r="3.65" fill="#fff" stroke="#24b057" stroke-width="1"/>
<circle cx="142.0" cy="879.0" r="3.65" fill="#fff" stroke="#24b057" stroke-width="1"/>
<circle cx="172.0" cy="869.0" r="3.65" fill="#fff" stroke="#24b057" stroke-width="1"/>
<circle cx="188.5" cy="860.5" r="3.65" fill="#fff" stroke="#24b057" stroke-width="1"/>
<circle cx="224.5" cy="844.0" r="3.65" fill="#fff" stroke="#24b057" stroke-width="1"/>
<circle cx="266.0" cy="826.5" r="3.65" fill="#fff" stroke="#24b057" stroke-width="1"/>
<circle cx="298.0" cy="811.0" r="3.65" fill="#fff" stroke="#24b057" stroke-width="1"/>
<circle cx="332.5" cy="800.5" r="3.65" fill="#fff" stroke="#24b057" stroke-width="1"/>
<circle cx="387.0" cy="780.0" r="3.65" fill="#fff" stroke="#24b057" stroke-width="1"/>
<circle cx="431.0" cy="759.5" r="3.65" fill="#fff" stroke="#24b057" stroke-width="1"/>
<circle cx="503.0" cy="738.5" r="3.65" fill="#fff" stroke="#24b057" stroke-width="1"/>
<circle cx="581.0" cy="715.5" r="3.65" fill="#fff" stroke="#24b057" stroke-width="1"/>
<circle cx="613.0" cy="702.5" r="3.65" fill="#fff" stroke="#24b057" stroke-width="1"/>
<circle cx="653.5" cy="691.5" r="3.65" fill="#fff" stroke="#24b057" stroke-width="1"/>
<polygon points="49.6,848.5 45.9,855.4 53.4,855.4" fill="#fff" stroke="#1ca9ec" stroke-width="1" stroke-linejoin="miter"/>
<polygon points="52.5,856.0 48.8,862.9 56.2,862.9" fill="#fff" stroke="#1ca9ec" stroke-width="1" stroke-linejoin="miter"/>
<polygon points="59.0,861.0 55.2,867.9 62.8,867.9" fill="#fff" stroke="#1ca9ec" stroke-width="1" stroke-linejoin="miter"/>
<polygon points="66.5,864.5 62.8,871.4 70.2,871.4" fill="#fff" stroke="#1ca9ec" stroke-width="1" stroke-linejoin="miter"/>
<polygon points="74.0,867.0 70.2,873.9 77.8,873.9" fill="#fff" stroke="#1ca9ec" stroke-width="1" stroke-linejoin="miter"/>
<polygon points="82.5,868.5 78.8,875.4 86.2,875.4" fill="#fff" stroke="#1ca9ec" stroke-width="1" stroke-linejoin="miter"/>
<polygon points="94.0,869.0 90.2,875.9 97.8,875.9" fill="#fff" stroke="#1ca9ec" stroke-width="1" stroke-linejoin="miter"/>
<polygon points="102.5,869.0 98.8,875.9 106.2,875.9" fill="#fff" stroke="#1ca9ec" stroke-width="1" stroke-linejoin="miter"/>
<polygon points="112.5,867.5 108.8,874.4 116.2,874.4" fill="#fff" stroke="#1ca9ec" stroke-width="1" stroke-linejoin="miter"/>
<polygon points="133.0,861.0 129.2,867.9 136.8,867.9" fill="#fff" stroke="#1ca9ec" stroke-width="1" stroke-linejoin="miter"/>
<polygon points="156.0,851.5 152.2,858.4 159.8,858.4" fill="#fff" stroke="#1ca9ec" stroke-width="1" stroke-linejoin="miter"/>
<polygon points="174.0,841.5 170.2,848.4 177.8,848.4" fill="#fff" stroke="#1ca9ec" stroke-width="1" stroke-linejoin="miter"/>
<polygon points="232.5,810.0 228.8,816.9 236.2,816.9" fill="#fff" stroke="#1ca9ec" stroke-width="1" stroke-linejoin="miter"/>
<polygon points="251.5,802.5 247.8,809.4 255.2,809.4" fill="#fff" stroke="#1ca9ec" stroke-width="1" stroke-linejoin="miter"/>
<polygon points="272.5,792.5 268.8,799.4 276.2,799.4" fill="#fff" stroke="#1ca9ec" stroke-width="1" stroke-linejoin="miter"/>
<polygon points="291.0,784.0 287.2,790.9 294.8,790.9" fill="#fff" stroke="#1ca9ec" stroke-width="1" stroke-linejoin="miter"/>
<polygon points="350.5,755.0 346.8,761.9 354.2,761.9" fill="#fff" stroke="#1ca9ec" stroke-width="1" stroke-linejoin="miter"/>
<polygon points="369.5,746.0 365.8,752.9 373.2,752.9" fill="#fff" stroke="#1ca9ec" stroke-width="1" stroke-linejoin="miter"/>
<polygon points="406.0,727.0 402.2,733.9 409.8,733.9" fill="#fff" stroke="#1ca9ec" stroke-width="1" stroke-linejoin="miter"/>
<polygon points="428.5,719.0 424.8,725.9 432.2,725.9" fill="#fff" stroke="#1ca9ec" stroke-width="1" stroke-linejoin="miter"/>
<polygon points="450.0,711.5 446.2,718.4 453.8,718.4" fill="#fff" stroke="#1ca9ec" stroke-width="1" stroke-linejoin="miter"/>
<polygon points="491.0,696.0 487.2,702.9 494.8,702.9" fill="#fff" stroke="#1ca9ec" stroke-width="1" stroke-linejoin="miter"/>
<polygon points="535.0,667.5 531.2,674.4 538.8,674.4" fill="#fff" stroke="#1ca9ec" stroke-width="1" stroke-linejoin="miter"/>
<polygon points="577.5,646.0 573.8,652.9 581.2,652.9" fill="#fff" stroke="#1ca9ec" stroke-width="1" stroke-linejoin="miter"/>
<polygon points="620.5,625.5 616.8,632.4 624.2,632.4" fill="#fff" stroke="#1ca9ec" stroke-width="1" stroke-linejoin="miter"/>
<rect x="45.4" y="848.6" width="7.3" height="7.3" fill="#fff" stroke="#ff0000" stroke-width="1"/>
<rect x="52.4" y="850.1" width="7.3" height="7.3" fill="#fff" stroke="#ff0000" stroke-width="1"/>
<rect x="55.0" y="852.6" width="7.3" height="7.3" fill="#fff" stroke="#ff0000" stroke-width="1"/>
<rect x="59.1" y="854.4" width="7.3" height="7.3" fill="#fff" stroke="#ff0000" stroke-width="1"/>
<rect x="62.9" y="855.4" width="7.3" height="7.3" fill="#fff" stroke="#ff0000" stroke-width="1"/>
<rect x="67.8" y="856.4" width="7.3" height="7.3" fill="#fff" stroke="#ff0000" stroke-width="1"/>
<rect x="76.3" y="855.4" width="7.3" height="7.3" fill="#fff" stroke="#ff0000" stroke-width="1"/>
<rect x="82.3" y="855.4" width="7.3" height="7.3" fill="#fff" stroke="#ff0000" stroke-width="1"/>
<rect x="94.3" y="850.4" width="7.3" height="7.3" fill="#fff" stroke="#ff0000" stroke-width="1"/>
<rect x="111.8" y="839.4" width="7.3" height="7.3" fill="#fff" stroke="#ff0000" stroke-width="1"/>
<rect x="123.3" y="833.9" width="7.3" height="7.3" fill="#fff" stroke="#ff0000" stroke-width="1"/>
<rect x="140.8" y="822.9" width="7.3" height="7.3" fill="#fff" stroke="#ff0000" stroke-width="1"/>
<rect x="152.3" y="814.9" width="7.3" height="7.3" fill="#fff" stroke="#ff0000" stroke-width="1"/>
<rect x="173.8" y="801.9" width="7.3" height="7.3" fill="#fff" stroke="#ff0000" stroke-width="1"/>
<rect x="202.3" y="786.9" width="7.3" height="7.3" fill="#fff" stroke="#ff0000" stroke-width="1"/>
<rect x="229.8" y="773.9" width="7.3" height="7.3" fill="#fff" stroke="#ff0000" stroke-width="1"/>
<rect x="244.3" y="762.9" width="7.3" height="7.3" fill="#fff" stroke="#ff0000" stroke-width="1"/>
<rect x="261.9" y="752.9" width="7.3" height="7.3" fill="#fff" stroke="#ff0000" stroke-width="1"/>
<rect x="294.4" y="729.9" width="7.3" height="7.3" fill="#fff" stroke="#ff0000" stroke-width="1"/>
<rect x="327.9" y="698.9" width="7.3" height="7.3" fill="#fff" stroke="#ff0000" stroke-width="1"/>
<rect x="354.4" y="685.9" width="7.3" height="7.3" fill="#fff" stroke="#ff0000" stroke-width="1"/>
<rect x="385.4" y="661.9" width="7.3" height="7.3" fill="#fff" stroke="#ff0000" stroke-width="1"/>
<rect x="422.9" y="635.9" width="7.3" height="7.3" fill="#fff" stroke="#ff0000" stroke-width="1"/>
<rect x="461.4" y="594.4" width="7.3" height="7.3" fill="#fff" stroke="#ff0000" stroke-width="1"/>
<rect x="494.4" y="573.9" width="7.3" height="7.3" fill="#fff" stroke="#ff0000" stroke-width="1"/>
<rect x="522.9" y="550.4" width="7.3" height="7.3" fill="#fff" stroke="#ff0000" stroke-width="1"/>
<rect x="575.4" y="510.9" width="7.3" height="7.3" fill="#fff" stroke="#ff0000" stroke-width="1"/>
<polygon points="50.0,850.1 46.4,856.8 53.6,856.8" fill="#1ca9ec" stroke="#1ca9ec" stroke-width="1" stroke-linejoin="miter"/>
<polygon points="54.0,857.1 50.4,863.8 57.6,863.8" fill="#1ca9ec" stroke="#1ca9ec" stroke-width="1" stroke-linejoin="miter"/>
<polygon points="60.0,862.1 56.4,868.8 63.6,868.8" fill="#1ca9ec" stroke="#1ca9ec" stroke-width="1" stroke-linejoin="miter"/>
<polygon points="74.0,867.6 70.3,874.3 77.7,874.3" fill="#1ca9ec" stroke="#1ca9ec" stroke-width="1" stroke-linejoin="miter"/>
<polygon points="82.5,872.1 78.8,878.8 86.2,878.8" fill="#1ca9ec" stroke="#1ca9ec" stroke-width="1" stroke-linejoin="miter"/>
<polygon points="94.0,874.1 90.3,880.8 97.7,880.8" fill="#1ca9ec" stroke="#1ca9ec" stroke-width="1" stroke-linejoin="miter"/>
<polygon points="103.8,875.1 100.1,881.8 107.5,881.8" fill="#1ca9ec" stroke="#1ca9ec" stroke-width="1" stroke-linejoin="miter"/>
<polygon points="118.5,871.3 114.8,878.0 122.2,878.0" fill="#1ca9ec" stroke="#1ca9ec" stroke-width="1" stroke-linejoin="miter"/>
<polygon points="134.5,866.1 130.8,872.8 138.2,872.8" fill="#1ca9ec" stroke="#1ca9ec" stroke-width="1" stroke-linejoin="miter"/>
<polygon points="156.0,855.4 152.3,862.1 159.7,862.1" fill="#1ca9ec" stroke="#1ca9ec" stroke-width="1" stroke-linejoin="miter"/>
<polygon points="179.0,842.1 175.3,848.8 182.7,848.8" fill="#1ca9ec" stroke="#1ca9ec" stroke-width="1" stroke-linejoin="miter"/>
<polygon points="214.0,821.6 210.3,828.3 217.7,828.3" fill="#1ca9ec" stroke="#1ca9ec" stroke-width="1" stroke-linejoin="miter"/>
<polygon points="240.5,806.1 236.8,812.8 244.2,812.8" fill="#1ca9ec" stroke="#1ca9ec" stroke-width="1" stroke-linejoin="miter"/>
<polygon points="265.0,795.1 261.4,801.8 268.6,801.8" fill="#1ca9ec" stroke="#1ca9ec" stroke-width="1" stroke-linejoin="miter"/>
<polygon points="291.5,780.6 287.9,787.3 295.1,787.3" fill="#1ca9ec" stroke="#1ca9ec" stroke-width="1" stroke-linejoin="miter"/>
<polygon points="330.0,765.1 326.4,771.8 333.6,771.8" fill="#1ca9ec" stroke="#1ca9ec" stroke-width="1" stroke-linejoin="miter"/>
<polygon points="367.5,749.1 363.9,755.8 371.1,755.8" fill="#1ca9ec" stroke="#1ca9ec" stroke-width="1" stroke-linejoin="miter"/>
<polygon points="389.0,741.1 385.4,747.8 392.6,747.8" fill="#1ca9ec" stroke="#1ca9ec" stroke-width="1" stroke-linejoin="miter"/>
<polygon points="409.5,734.1 405.9,740.8 413.1,740.8" fill="#1ca9ec" stroke="#1ca9ec" stroke-width="1" stroke-linejoin="miter"/>
<polygon points="421.0,729.6 417.4,736.3 424.6,736.3" fill="#1ca9ec" stroke="#1ca9ec" stroke-width="1" stroke-linejoin="miter"/>
<polygon points="443.5,722.6 439.9,729.3 447.1,729.3" fill="#1ca9ec" stroke="#1ca9ec" stroke-width="1" stroke-linejoin="miter"/>
<polygon points="474.0,711.6 470.4,718.3 477.6,718.3" fill="#1ca9ec" stroke="#1ca9ec" stroke-width="1" stroke-linejoin="miter"/>
<polygon points="504.0,700.1 500.4,706.8 507.6,706.8" fill="#1ca9ec" stroke="#1ca9ec" stroke-width="1" stroke-linejoin="miter"/>
<polygon points="545.0,678.6 541.4,685.3 548.6,685.3" fill="#1ca9ec" stroke="#1ca9ec" stroke-width="1" stroke-linejoin="miter"/>
<polygon points="585.5,660.6 581.9,667.3 589.1,667.3" fill="#1ca9ec" stroke="#1ca9ec" stroke-width="1" stroke-linejoin="miter"/>
<line x1="125" y1="836.5" x2="177.5" y2="804" stroke="#111" stroke-width="1.6"/>
<line x1="202.5" y1="830" x2="295" y2="786" stroke="#111" stroke-width="1.6"/>
<line x1="226" y1="843.5" x2="305" y2="806.5" stroke="#111" stroke-width="1.6"/>
<line x1="480.5" y1="590.5" x2="590" y2="504" stroke="#111" stroke-width="1.6"/>
<line x1="530.5" y1="672.5" x2="619" y2="627.5" stroke="#111" stroke-width="1.6"/>
<line x1="582" y1="714.5" x2="651.5" y2="690" stroke="#111" stroke-width="1.6"/>
<line x1="49.5" y1="853.2" x2="673" y2="848.5" stroke="#111" stroke-width="1.3"/>
<line x1="103.5" y1="901.8" x2="102" y2="780.3" stroke="#111" stroke-width="1.6"/>
<polygon points="102,776.3 98.7,782.5999999999999 105.3,782.5999999999999" fill="#111"/>
<line x1="368.5" y1="801.5" x2="368.3" y2="664.6" stroke="#111" stroke-width="1.6"/>
<polygon points="368.3,660.6 365.0,666.9 371.6,666.9" fill="#111"/>
<text x="57.5" y="773.5" font-size="15.2" text-anchor="start">Increasing Strain rate</text>
<text x="236" y="656.5" font-size="15.2" text-anchor="start">Increasing Strain rate</text>
<g transform="translate(297,512) scale(1.0)">
<text x="0" y="0" font-size="15" font-style="italic" textLength="10.4" lengthAdjust="spacingAndGlyphs">σ</text>
<text x="10.3" y="2.8" font-size="12.3" textLength="6.2" lengthAdjust="spacingAndGlyphs">3</text>
<text x="17" y="0" font-size="14.9">-</text>
<text x="22" y="0" font-size="15.5" font-style="italic" textLength="9.3" lengthAdjust="spacingAndGlyphs">u</text>
<text x="31.6" y="2.8" font-size="11.5" font-style="italic" textLength="7.2" lengthAdjust="spacingAndGlyphs">a</text>
<text x="39.8" y="0" font-size="14.9">=120 kPa</text>
</g>
<text x="634.3" y="515" font-size="19" text-anchor="start">(b</text>
<line x1="529.7" y1="751" x2="558.2" y2="751" stroke="#24b057" stroke-width="1.6"/>
<circle cx="543.7" cy="751.0" r="3.5200000000000005" fill="#fff" stroke="#24b057" stroke-width="1"/>
<text x="560.2" y="756" font-size="15.2" text-anchor="start">0.0006 %/S</text>
<line x1="529.7" y1="778" x2="558.2" y2="778" stroke="#1ca9ec" stroke-width="1.6"/>
<polygon points="543.7,773.9 539.9,781.0 547.6,781.0" fill="#fff" stroke="#1ca9ec" stroke-width="1" stroke-linejoin="miter"/>
<text x="560.2" y="783" font-size="15.2" text-anchor="start">0.1 %/S</text>
<line x1="529.7" y1="805.5" x2="558.2" y2="805.5" stroke="#ff0000" stroke-width="1.6"/>
<rect x="540.1" y="801.9" width="7.15" height="7.15" fill="#fff" stroke="#ff0000" stroke-width="1"/>
<text x="560.2" y="810.5" font-size="15.2" text-anchor="start">2.5 %/S</text>
<line x1="529.7" y1="833" x2="535.7" y2="833" stroke="#1ca9ec" stroke-width="1.6"/>
<line x1="549.7" y1="833" x2="556.2" y2="833" stroke="#1ca9ec" stroke-width="1.6"/>
<polygon points="543.7,829.2 540.1,835.8 547.3,835.8" fill="#1ca9ec" stroke="#1ca9ec" stroke-width="1" stroke-linejoin="miter"/>
<text x="560.2" y="838" font-size="15.2" text-anchor="start">0.1 %/S (repeat.)</text>
<line x1="44.5" y1="977.5" x2="44.5" y2="1402.82" stroke="#111" stroke-width="1.6"/>
<line x1="44.0" y1="1402.02" x2="678.5" y2="1402.02" stroke="#111" stroke-width="1.6"/>
<line x1="40.0" y1="978.0" x2="48.0" y2="978.0" stroke="#111" stroke-width="1.5"/>
<line x1="40.0" y1="1013.3" x2="48.0" y2="1013.3" stroke="#111" stroke-width="1.5"/>
<line x1="40.0" y1="1048.7" x2="48.0" y2="1048.7" stroke="#111" stroke-width="1.5"/>
<line x1="40.0" y1="1084.0" x2="48.0" y2="1084.0" stroke="#111" stroke-width="1.5"/>
<line x1="40.0" y1="1119.3" x2="48.0" y2="1119.3" stroke="#111" stroke-width="1.5"/>
<line x1="40.0" y1="1154.7" x2="48.0" y2="1154.7" stroke="#111" stroke-width="1.5"/>
<line x1="40.0" y1="1190.0" x2="48.0" y2="1190.0" stroke="#111" stroke-width="1.5"/>
<line x1="40.0" y1="1225.3" x2="48.0" y2="1225.3" stroke="#111" stroke-width="1.5"/>
<line x1="40.0" y1="1260.7" x2="48.0" y2="1260.7" stroke="#111" stroke-width="1.5"/>
<line x1="40.0" y1="1296.0" x2="48.0" y2="1296.0" stroke="#111" stroke-width="1.5"/>
<line x1="40.0" y1="1331.3" x2="48.0" y2="1331.3" stroke="#111" stroke-width="1.5"/>
<line x1="40.0" y1="1366.7" x2="48.0" y2="1366.7" stroke="#111" stroke-width="1.5"/>
<line x1="40.0" y1="1402.0" x2="48.0" y2="1402.0" stroke="#111" stroke-width="1.5"/>
<text x="31.5" y="983.5" font-size="15.45" text-anchor="end">-5</text>
<text x="31.5" y="1054.2" font-size="15.45" text-anchor="end">-4</text>
<text x="31.5" y="1124.8" font-size="15.45" text-anchor="end">-3</text>
<text x="31.5" y="1195.5" font-size="15.45" text-anchor="end">-2</text>
<text x="31.5" y="1266.2" font-size="15.45" text-anchor="end">-1</text>
<text x="31.5" y="1336.8" font-size="15.45" text-anchor="end">0</text>
<text x="31.5" y="1407.5" font-size="15.45" text-anchor="end">1</text>
<line x1="44.5" y1="1399.22" x2="44.5" y2="1406.22" stroke="#111" stroke-width="1.4"/>
<line x1="76.2" y1="1399.22" x2="76.2" y2="1406.22" stroke="#111" stroke-width="1.4"/>
<line x1="107.8" y1="1399.22" x2="107.8" y2="1406.22" stroke="#111" stroke-width="1.4"/>
<line x1="139.5" y1="1399.22" x2="139.5" y2="1406.22" stroke="#111" stroke-width="1.4"/>
<line x1="171.1" y1="1399.22" x2="171.1" y2="1406.22" stroke="#111" stroke-width="1.4"/>
<line x1="202.8" y1="1399.22" x2="202.8" y2="1406.22" stroke="#111" stroke-width="1.4"/>
<line x1="234.5" y1="1399.22" x2="234.5" y2="1406.22" stroke="#111" stroke-width="1.4"/>
<line x1="266.1" y1="1399.22" x2="266.1" y2="1406.22" stroke="#111" stroke-width="1.4"/>
<line x1="297.8" y1="1399.22" x2="297.8" y2="1406.22" stroke="#111" stroke-width="1.4"/>
<line x1="329.4" y1="1399.22" x2="329.4" y2="1406.22" stroke="#111" stroke-width="1.4"/>
<line x1="361.1" y1="1399.22" x2="361.1" y2="1406.22" stroke="#111" stroke-width="1.4"/>
<line x1="392.8" y1="1399.22" x2="392.8" y2="1406.22" stroke="#111" stroke-width="1.4"/>
<line x1="424.4" y1="1399.22" x2="424.4" y2="1406.22" stroke="#111" stroke-width="1.4"/>
<line x1="456.1" y1="1399.22" x2="456.1" y2="1406.22" stroke="#111" stroke-width="1.4"/>
<line x1="487.7" y1="1399.22" x2="487.7" y2="1406.22" stroke="#111" stroke-width="1.4"/>
<line x1="519.4" y1="1399.22" x2="519.4" y2="1406.22" stroke="#111" stroke-width="1.4"/>
<line x1="551.1" y1="1399.22" x2="551.1" y2="1406.22" stroke="#111" stroke-width="1.4"/>
<line x1="582.7" y1="1399.22" x2="582.7" y2="1406.22" stroke="#111" stroke-width="1.4"/>
<line x1="614.4" y1="1399.22" x2="614.4" y2="1406.22" stroke="#111" stroke-width="1.4"/>
<line x1="646.0" y1="1399.22" x2="646.0" y2="1406.22" stroke="#111" stroke-width="1.4"/>
<line x1="677.7" y1="1399.22" x2="677.7" y2="1406.22" stroke="#111" stroke-width="1.4"/>
<text x="44.5" y="1425.5" font-size="15.45" text-anchor="middle">0</text>
<text x="202.8" y="1425.5" font-size="15.45" text-anchor="middle">5</text>
<text x="361.1" y="1425.5" font-size="15.45" text-anchor="middle">10</text>
<text x="519.4" y="1425.5" font-size="15.45" text-anchor="middle">15</text>
<text x="677.7" y="1425.5" font-size="15.45" text-anchor="middle">20</text>
<text x="375.5" y="1447" font-size="15.45" text-anchor="middle">Global Axial Strain(%)</text>
<text transform="translate(10,1195.5) rotate(-90)" font-size="15.45" text-anchor="middle">Global Volumetric Strain(%)</text>
<path d="M45.0,1331.0 C45.8,1331.8 48.5,1334.0 50.0,1336.0 C51.5,1338.0 53.6,1341.6 55.0,1344.0 C56.4,1346.4 58.1,1349.8 59.5,1352.0 C60.9,1354.2 62.3,1356.3 64.0,1359.0 C65.7,1361.7 68.4,1366.5 71.0,1370.0 C73.6,1373.5 76.1,1379.1 81.5,1382.0 C86.9,1384.9 98.4,1388.5 107.2,1389.6 C116.0,1390.6 130.4,1390.1 140.3,1389.0 C150.2,1387.9 159.0,1385.9 173.0,1382.5 C187.0,1379.1 215.1,1373.1 233.5,1366.5 C251.9,1359.9 279.2,1345.7 296.0,1338.5 C312.8,1331.3 331.1,1324.9 345.5,1318.5 C359.9,1312.1 377.8,1302.5 392.0,1296.0 C406.2,1289.5 425.5,1280.8 440.0,1275.0 C454.5,1269.2 474.0,1261.5 488.5,1257.0 C503.0,1252.5 522.3,1248.7 536.5,1245.0 C550.7,1241.3 569.6,1236.0 583.0,1232.5 C596.4,1229.0 614.0,1225.2 626.0,1222.0 C638.0,1218.8 657.5,1212.7 663.0,1211.0" fill="none" stroke="#24b057" stroke-width="1.6" stroke-linejoin="round"/>
<path d="M45.0,1331.5 C45.8,1332.4 48.4,1335.6 50.0,1337.5 C51.6,1339.4 54.3,1342.4 56.0,1344.0 C57.7,1345.6 59.6,1346.3 61.5,1348.0 C63.4,1349.7 66.5,1352.9 68.5,1355.0 C70.5,1357.1 73.3,1359.7 75.0,1362.0 C76.7,1364.3 77.9,1368.7 80.0,1370.5 C82.1,1372.3 85.7,1373.4 89.0,1374.0 C92.3,1374.6 97.6,1374.3 102.0,1374.5 C106.4,1374.7 114.2,1375.3 118.5,1375.5 C122.8,1375.7 126.7,1375.7 131.0,1375.5 C135.3,1375.3 141.4,1375.1 147.0,1374.0 C152.6,1372.9 161.9,1369.9 168.0,1368.0 C174.1,1366.1 181.4,1363.7 187.5,1361.5 C193.6,1359.3 201.8,1356.2 208.5,1353.5 C215.2,1350.8 223.3,1347.6 232.5,1343.5 C241.7,1339.4 259.3,1330.6 270.0,1326.0 C280.7,1321.4 293.6,1316.8 304.0,1313.0 C314.4,1309.2 328.5,1304.8 339.0,1300.5 C349.5,1296.2 364.7,1288.8 374.0,1284.0 C383.3,1279.2 392.8,1272.5 401.0,1268.5 C409.2,1264.5 419.2,1261.2 429.0,1257.5 C438.8,1253.8 456.0,1247.4 466.5,1243.5 C477.0,1239.6 488.4,1235.5 499.0,1231.5 C509.6,1227.5 526.9,1220.5 537.5,1217.0 C548.1,1213.5 559.8,1210.9 570.0,1208.0 C580.2,1205.1 597.0,1200.0 605.5,1197.5 C614.0,1195.0 620.9,1193.1 627.0,1191.5 C633.1,1189.9 643.1,1187.7 646.0,1187.0" fill="none" stroke="#1ca9ec" stroke-width="1.6" stroke-linejoin="round"/>
<path d="M45.0,1331.0 C45.8,1331.4 48.4,1332.7 50.0,1333.5 C51.6,1334.3 54.2,1335.7 56.0,1336.5 C57.8,1337.3 60.3,1338.3 62.0,1339.0 C63.7,1339.7 65.4,1340.5 67.5,1341.0 C69.6,1341.5 72.8,1342.0 76.0,1342.0 C79.2,1342.0 84.5,1342.7 88.5,1341.0 C92.5,1339.3 97.4,1333.1 102.5,1330.5 C107.6,1327.9 115.9,1327.4 122.5,1323.5 C129.1,1319.6 138.6,1310.1 146.5,1304.5 C154.4,1298.9 166.5,1291.1 175.5,1286.0 C184.5,1280.9 196.6,1276.5 206.5,1270.5 C216.4,1264.5 229.9,1253.3 241.5,1246.0 C253.1,1238.7 274.1,1226.8 283.5,1221.5 C292.9,1216.2 297.5,1214.6 304.0,1210.5 C310.5,1206.4 319.2,1198.8 327.0,1194.0 C334.8,1189.2 348.5,1182.9 356.0,1178.5 C363.5,1174.1 370.2,1168.1 377.0,1164.5 C383.8,1160.9 393.6,1158.2 401.0,1154.5 C408.4,1150.8 417.0,1143.9 426.0,1140.0 C435.0,1136.1 452.6,1131.6 461.0,1128.5 C469.4,1125.4 475.5,1122.0 482.0,1119.5 C488.5,1117.0 498.1,1114.2 504.5,1112.0 C510.9,1109.8 518.9,1108.2 525.0,1105.0 C531.1,1101.8 538.4,1094.7 545.0,1091.0 C551.6,1087.3 560.1,1086.3 569.0,1080.5 C577.9,1074.7 596.0,1058.4 604.0,1052.5 C612.0,1046.6 619.7,1042.7 622.5,1041.0" fill="none" stroke="#ff0000" stroke-width="1.6" stroke-linejoin="round"/>
<path d="M44.5,1331.2 C44.8,1331.4 45.8,1332.1 46.5,1332.6 C47.2,1333.1 48.1,1333.8 49.0,1334.5 C49.9,1335.2 51.3,1336.2 52.5,1337.0 C53.7,1337.8 55.7,1339.1 57.0,1339.8 C58.3,1340.5 59.6,1340.7 61.3,1341.5 C63.0,1342.3 64.6,1344.3 68.3,1345.0 C72.0,1345.7 81.6,1346.1 86.0,1346.0 C90.4,1345.9 93.7,1345.6 97.5,1344.5 C101.3,1343.4 106.3,1340.6 111.5,1338.5 C116.7,1336.4 125.8,1334.3 132.0,1330.5 C138.2,1326.7 147.0,1317.3 152.5,1313.0 C158.0,1308.7 162.7,1305.3 168.5,1301.5 C174.3,1297.7 185.3,1291.5 191.5,1287.5 C197.7,1283.5 202.7,1280.5 210.0,1275.0 C217.3,1269.5 229.0,1258.8 240.0,1251.0 C251.0,1243.2 273.9,1228.7 283.5,1223.0 C293.1,1217.3 296.7,1217.9 304.0,1213.0 C311.3,1208.1 324.2,1196.1 332.0,1190.5 C339.8,1184.9 347.9,1180.3 356.0,1175.5 C364.1,1170.7 376.1,1164.2 386.0,1158.5 C395.9,1152.8 411.6,1143.3 422.0,1137.5 C432.4,1131.7 446.4,1124.7 455.5,1120.0 C464.6,1115.3 474.7,1110.8 483.0,1106.5 C491.3,1102.2 502.5,1095.8 511.0,1091.5 C519.5,1087.2 530.4,1082.8 539.5,1077.5 C548.6,1072.2 561.9,1062.2 572.0,1056.0 C582.1,1049.8 601.8,1039.4 607.0,1036.5" fill="none" stroke="#ff0000" stroke-width="1.6" stroke-linejoin="round" stroke-dasharray="6,4.3"/>
<circle cx="45.0" cy="1331.0" r="3.65" fill="#fff" stroke="#24b057" stroke-width="1"/>
<circle cx="50.0" cy="1336.0" r="3.65" fill="#fff" stroke="#24b057" stroke-width="1"/>
<circle cx="55.0" cy="1344.0" r="3.65" fill="#fff" stroke="#24b057" stroke-width="1"/>
<circle cx="59.5" cy="1352.0" r="3.65" fill="#fff" stroke="#24b057" stroke-width="1"/>
<circle cx="64.0" cy="1359.0" r="3.65" fill="#fff" stroke="#24b057" stroke-width="1"/>
<circle cx="71.0" cy="1370.0" r="3.65" fill="#fff" stroke="#24b057" stroke-width="1"/>
<circle cx="81.5" cy="1382.0" r="3.65" fill="#fff" stroke="#24b057" stroke-width="1"/>
<circle cx="107.2" cy="1389.6" r="3.65" fill="#fff" stroke="#24b057" stroke-width="1"/>
<circle cx="140.3" cy="1389.0" r="3.65" fill="#fff" stroke="#24b057" stroke-width="1"/>
<circle cx="173.0" cy="1382.5" r="3.65" fill="#fff" stroke="#24b057" stroke-width="1"/>
<circle cx="233.5" cy="1366.5" r="3.65" fill="#fff" stroke="#24b057" stroke-width="1"/>
<circle cx="296.0" cy="1338.5" r="3.65" fill="#fff" stroke="#24b057" stroke-width="1"/>
<circle cx="345.5" cy="1318.5" r="3.65" fill="#fff" stroke="#24b057" stroke-width="1"/>
<circle cx="392.0" cy="1296.0" r="3.65" fill="#fff" stroke="#24b057" stroke-width="1"/>
<circle cx="440.0" cy="1275.0" r="3.65" fill="#fff" stroke="#24b057" stroke-width="1"/>
<circle cx="488.5" cy="1257.0" r="3.65" fill="#fff" stroke="#24b057" stroke-width="1"/>
<circle cx="536.5" cy="1245.0" r="3.65" fill="#fff" stroke="#24b057" stroke-width="1"/>
<circle cx="583.0" cy="1232.5" r="3.65" fill="#fff" stroke="#24b057" stroke-width="1"/>
<circle cx="626.0" cy="1222.0" r="3.65" fill="#fff" stroke="#24b057" stroke-width="1"/>
<circle cx="663.0" cy="1211.0" r="3.65" fill="#fff" stroke="#24b057" stroke-width="1"/>
<polygon points="45.0,1327.5 41.2,1334.4 48.8,1334.4" fill="#fff" stroke="#1ca9ec" stroke-width="1" stroke-linejoin="miter"/>
<polygon points="50.0,1333.5 46.2,1340.4 53.8,1340.4" fill="#fff" stroke="#1ca9ec" stroke-width="1" stroke-linejoin="miter"/>
<polygon points="56.0,1340.0 52.2,1346.9 59.8,1346.9" fill="#fff" stroke="#1ca9ec" stroke-width="1" stroke-linejoin="miter"/>
<polygon points="61.5,1344.0 57.8,1350.9 65.2,1350.9" fill="#fff" stroke="#1ca9ec" stroke-width="1" stroke-linejoin="miter"/>
<polygon points="68.5,1351.0 64.8,1357.9 72.2,1357.9" fill="#fff" stroke="#1ca9ec" stroke-width="1" stroke-linejoin="miter"/>
<polygon points="75.0,1358.0 71.2,1364.9 78.8,1364.9" fill="#fff" stroke="#1ca9ec" stroke-width="1" stroke-linejoin="miter"/>
<polygon points="80.0,1366.5 76.2,1373.4 83.8,1373.4" fill="#fff" stroke="#1ca9ec" stroke-width="1" stroke-linejoin="miter"/>
<polygon points="89.0,1370.0 85.2,1376.9 92.8,1376.9" fill="#fff" stroke="#1ca9ec" stroke-width="1" stroke-linejoin="miter"/>
<polygon points="102.0,1370.5 98.2,1377.4 105.8,1377.4" fill="#fff" stroke="#1ca9ec" stroke-width="1" stroke-linejoin="miter"/>
<polygon points="118.5,1371.5 114.8,1378.4 122.2,1378.4" fill="#fff" stroke="#1ca9ec" stroke-width="1" stroke-linejoin="miter"/>
<polygon points="131.0,1371.5 127.2,1378.4 134.8,1378.4" fill="#fff" stroke="#1ca9ec" stroke-width="1" stroke-linejoin="miter"/>
<polygon points="147.0,1370.0 143.2,1376.9 150.8,1376.9" fill="#fff" stroke="#1ca9ec" stroke-width="1" stroke-linejoin="miter"/>
<polygon points="168.0,1364.0 164.2,1370.9 171.8,1370.9" fill="#fff" stroke="#1ca9ec" stroke-width="1" stroke-linejoin="miter"/>
<polygon points="187.5,1357.5 183.8,1364.4 191.2,1364.4" fill="#fff" stroke="#1ca9ec" stroke-width="1" stroke-linejoin="miter"/>
<polygon points="208.5,1349.5 204.8,1356.4 212.2,1356.4" fill="#fff" stroke="#1ca9ec" stroke-width="1" stroke-linejoin="miter"/>
<polygon points="232.5,1339.5 228.8,1346.4 236.2,1346.4" fill="#fff" stroke="#1ca9ec" stroke-width="1" stroke-linejoin="miter"/>
<polygon points="270.0,1322.0 266.2,1328.9 273.8,1328.9" fill="#fff" stroke="#1ca9ec" stroke-width="1" stroke-linejoin="miter"/>
<polygon points="304.0,1309.0 300.2,1315.9 307.8,1315.9" fill="#fff" stroke="#1ca9ec" stroke-width="1" stroke-linejoin="miter"/>
<polygon points="339.0,1296.5 335.2,1303.4 342.8,1303.4" fill="#fff" stroke="#1ca9ec" stroke-width="1" stroke-linejoin="miter"/>
<polygon points="374.0,1280.0 370.2,1286.9 377.8,1286.9" fill="#fff" stroke="#1ca9ec" stroke-width="1" stroke-linejoin="miter"/>
<polygon points="401.0,1264.5 397.2,1271.4 404.8,1271.4" fill="#fff" stroke="#1ca9ec" stroke-width="1" stroke-linejoin="miter"/>
<polygon points="429.0,1253.5 425.2,1260.4 432.8,1260.4" fill="#fff" stroke="#1ca9ec" stroke-width="1" stroke-linejoin="miter"/>
<polygon points="466.5,1239.5 462.8,1246.4 470.2,1246.4" fill="#fff" stroke="#1ca9ec" stroke-width="1" stroke-linejoin="miter"/>
<polygon points="499.0,1227.5 495.2,1234.4 502.8,1234.4" fill="#fff" stroke="#1ca9ec" stroke-width="1" stroke-linejoin="miter"/>
<polygon points="537.5,1213.0 533.8,1219.9 541.2,1219.9" fill="#fff" stroke="#1ca9ec" stroke-width="1" stroke-linejoin="miter"/>
<polygon points="570.0,1204.0 566.2,1210.9 573.8,1210.9" fill="#fff" stroke="#1ca9ec" stroke-width="1" stroke-linejoin="miter"/>
<polygon points="605.5,1193.5 601.8,1200.4 609.2,1200.4" fill="#fff" stroke="#1ca9ec" stroke-width="1" stroke-linejoin="miter"/>
<polygon points="627.0,1187.5 623.2,1194.4 630.8,1194.4" fill="#fff" stroke="#1ca9ec" stroke-width="1" stroke-linejoin="miter"/>
<polygon points="646.0,1183.0 642.2,1189.9 649.8,1189.9" fill="#fff" stroke="#1ca9ec" stroke-width="1" stroke-linejoin="miter"/>
<rect x="41.4" y="1327.4" width="7.2" height="7.2" fill="#fff" stroke="#ff0000" stroke-width="1"/>
<rect x="46.4" y="1329.9" width="7.2" height="7.2" fill="#fff" stroke="#ff0000" stroke-width="1"/>
<rect x="52.4" y="1332.9" width="7.2" height="7.2" fill="#fff" stroke="#ff0000" stroke-width="1"/>
<rect x="58.4" y="1335.4" width="7.2" height="7.2" fill="#fff" stroke="#ff0000" stroke-width="1"/>
<rect x="63.9" y="1337.4" width="7.2" height="7.2" fill="#fff" stroke="#ff0000" stroke-width="1"/>
<rect x="72.4" y="1338.4" width="7.2" height="7.2" fill="#fff" stroke="#ff0000" stroke-width="1"/>
<rect x="84.9" y="1337.4" width="7.2" height="7.2" fill="#fff" stroke="#ff0000" stroke-width="1"/>
<rect x="98.9" y="1326.9" width="7.2" height="7.2" fill="#fff" stroke="#ff0000" stroke-width="1"/>
<rect x="118.9" y="1319.9" width="7.2" height="7.2" fill="#fff" stroke="#ff0000" stroke-width="1"/>
<rect x="142.9" y="1300.9" width="7.2" height="7.2" fill="#fff" stroke="#ff0000" stroke-width="1"/>
<rect x="171.9" y="1282.4" width="7.2" height="7.2" fill="#fff" stroke="#ff0000" stroke-width="1"/>
<rect x="202.9" y="1266.9" width="7.2" height="7.2" fill="#fff" stroke="#ff0000" stroke-width="1"/>
<rect x="237.9" y="1242.4" width="7.2" height="7.2" fill="#fff" stroke="#ff0000" stroke-width="1"/>
<rect x="279.9" y="1217.9" width="7.2" height="7.2" fill="#fff" stroke="#ff0000" stroke-width="1"/>
<rect x="300.4" y="1206.9" width="7.2" height="7.2" fill="#fff" stroke="#ff0000" stroke-width="1"/>
<rect x="323.4" y="1190.4" width="7.2" height="7.2" fill="#fff" stroke="#ff0000" stroke-width="1"/>
<rect x="352.4" y="1174.9" width="7.2" height="7.2" fill="#fff" stroke="#ff0000" stroke-width="1"/>
<rect x="373.4" y="1160.9" width="7.2" height="7.2" fill="#fff" stroke="#ff0000" stroke-width="1"/>
<rect x="397.4" y="1150.9" width="7.2" height="7.2" fill="#fff" stroke="#ff0000" stroke-width="1"/>
<rect x="422.4" y="1136.4" width="7.2" height="7.2" fill="#fff" stroke="#ff0000" stroke-width="1"/>
<rect x="457.4" y="1124.9" width="7.2" height="7.2" fill="#fff" stroke="#ff0000" stroke-width="1"/>
<rect x="478.4" y="1115.9" width="7.2" height="7.2" fill="#fff" stroke="#ff0000" stroke-width="1"/>
<rect x="500.9" y="1108.4" width="7.2" height="7.2" fill="#fff" stroke="#ff0000" stroke-width="1"/>
<rect x="521.4" y="1101.4" width="7.2" height="7.2" fill="#fff" stroke="#ff0000" stroke-width="1"/>
<rect x="541.4" y="1087.4" width="7.2" height="7.2" fill="#fff" stroke="#ff0000" stroke-width="1"/>
<rect x="565.4" y="1076.9" width="7.2" height="7.2" fill="#fff" stroke="#ff0000" stroke-width="1"/>
<rect x="600.4" y="1048.9" width="7.2" height="7.2" fill="#fff" stroke="#ff0000" stroke-width="1"/>
<rect x="618.9" y="1037.4" width="7.2" height="7.2" fill="#fff" stroke="#ff0000" stroke-width="1"/>
<rect x="40.9" y="1327.6" width="7.2" height="7.2" fill="#ff0000" stroke="#ff0000" stroke-width="1"/>
<rect x="42.9" y="1329.0" width="7.2" height="7.2" fill="#ff0000" stroke="#ff0000" stroke-width="1"/>
<rect x="45.4" y="1330.9" width="7.2" height="7.2" fill="#ff0000" stroke="#ff0000" stroke-width="1"/>
<rect x="48.9" y="1333.4" width="7.2" height="7.2" fill="#ff0000" stroke="#ff0000" stroke-width="1"/>
<rect x="53.4" y="1336.2" width="7.2" height="7.2" fill="#ff0000" stroke="#ff0000" stroke-width="1"/>
<rect x="57.7" y="1337.9" width="7.2" height="7.2" fill="#ff0000" stroke="#ff0000" stroke-width="1"/>
<rect x="64.7" y="1341.4" width="7.2" height="7.2" fill="#ff0000" stroke="#ff0000" stroke-width="1"/>
<rect x="82.4" y="1342.4" width="7.2" height="7.2" fill="#ff0000" stroke="#ff0000" stroke-width="1"/>
<rect x="93.9" y="1340.9" width="7.2" height="7.2" fill="#ff0000" stroke="#ff0000" stroke-width="1"/>
<rect x="107.9" y="1334.9" width="7.2" height="7.2" fill="#ff0000" stroke="#ff0000" stroke-width="1"/>
<rect x="128.4" y="1326.9" width="7.2" height="7.2" fill="#ff0000" stroke="#ff0000" stroke-width="1"/>
<rect x="148.9" y="1309.4" width="7.2" height="7.2" fill="#ff0000" stroke="#ff0000" stroke-width="1"/>
<rect x="164.9" y="1297.9" width="7.2" height="7.2" fill="#ff0000" stroke="#ff0000" stroke-width="1"/>
<rect x="187.9" y="1283.9" width="7.2" height="7.2" fill="#ff0000" stroke="#ff0000" stroke-width="1"/>
<rect x="206.4" y="1271.4" width="7.2" height="7.2" fill="#ff0000" stroke="#ff0000" stroke-width="1"/>
<rect x="236.4" y="1247.4" width="7.2" height="7.2" fill="#ff0000" stroke="#ff0000" stroke-width="1"/>
<rect x="279.9" y="1219.4" width="7.2" height="7.2" fill="#ff0000" stroke="#ff0000" stroke-width="1"/>
<rect x="300.4" y="1209.4" width="7.2" height="7.2" fill="#ff0000" stroke="#ff0000" stroke-width="1"/>
<rect x="328.4" y="1186.9" width="7.2" height="7.2" fill="#ff0000" stroke="#ff0000" stroke-width="1"/>
<rect x="352.4" y="1171.9" width="7.2" height="7.2" fill="#ff0000" stroke="#ff0000" stroke-width="1"/>
<rect x="382.4" y="1154.9" width="7.2" height="7.2" fill="#ff0000" stroke="#ff0000" stroke-width="1"/>
<rect x="418.4" y="1133.9" width="7.2" height="7.2" fill="#ff0000" stroke="#ff0000" stroke-width="1"/>
<rect x="451.9" y="1116.4" width="7.2" height="7.2" fill="#ff0000" stroke="#ff0000" stroke-width="1"/>
<rect x="479.4" y="1102.9" width="7.2" height="7.2" fill="#ff0000" stroke="#ff0000" stroke-width="1"/>
<rect x="507.4" y="1087.9" width="7.2" height="7.2" fill="#ff0000" stroke="#ff0000" stroke-width="1"/>
<rect x="535.9" y="1073.9" width="7.2" height="7.2" fill="#ff0000" stroke="#ff0000" stroke-width="1"/>
<rect x="568.4" y="1052.4" width="7.2" height="7.2" fill="#ff0000" stroke="#ff0000" stroke-width="1"/>
<rect x="603.4" y="1032.9" width="7.2" height="7.2" fill="#ff0000" stroke="#ff0000" stroke-width="1"/>
<line x1="151.5" y1="1297.5" x2="218.5" y2="1261" stroke="#111" stroke-width="1.6"/>
<line x1="272.5" y1="1324" x2="365.5" y2="1287.5" stroke="#111" stroke-width="1.6"/>
<line x1="299" y1="1336" x2="391.5" y2="1296" stroke="#111" stroke-width="1.6"/>
<line x1="568" y1="1080.5" x2="628" y2="1035.5" stroke="#111" stroke-width="1.6"/>
<line x1="576.5" y1="1204" x2="653" y2="1186" stroke="#111" stroke-width="1.6"/>
<line x1="592" y1="1229.5" x2="665.5" y2="1209.5" stroke="#111" stroke-width="1.6"/>
<line x1="44.5" y1="1332.3" x2="679" y2="1328.5" stroke="#111" stroke-width="1.3"/>
<line x1="128" y1="1395.3" x2="126.9" y2="1267.6" stroke="#111" stroke-width="1.6"/>
<polygon points="126.9,1263.6 123.60000000000001,1269.8999999999999 130.20000000000002,1269.8999999999999" fill="#111"/>
<line x1="410.5" y1="1307.5" x2="412.8" y2="1122.2" stroke="#111" stroke-width="1.6"/>
<polygon points="412.8,1118.2 409.5,1124.5 416.1,1124.5" fill="#111"/>
<text x="57.5" y="1257" font-size="15.45" text-anchor="start">Increasing Strain rate</text>
<text x="325.8" y="1111.8" font-size="15.45" text-anchor="start">Increasing Strain rate</text>
<g transform="translate(335,1002.3) scale(1.025)">
<text x="0" y="0" font-size="15" font-style="italic" textLength="10.4" lengthAdjust="spacingAndGlyphs">σ</text>
<text x="10.3" y="2.8" font-size="12.3" textLength="6.2" lengthAdjust="spacingAndGlyphs">3</text>
<text x="17" y="0" font-size="14.9">-</text>
<text x="22" y="0" font-size="15.5" font-style="italic" textLength="9.3" lengthAdjust="spacingAndGlyphs">u</text>
<text x="31.6" y="2.8" font-size="11.5" font-style="italic" textLength="7.2" lengthAdjust="spacingAndGlyphs">a</text>
<text x="39.8" y="0" font-size="14.9">=240 kPa</text>
</g>
<text x="642.2" y="1006" font-size="19.5" text-anchor="start">(c</text>
<line x1="109" y1="1005" x2="137.5" y2="1005" stroke="#24b057" stroke-width="1.6"/>
<circle cx="122.5" cy="1005.0" r="3.4560000000000004" fill="#fff" stroke="#24b057" stroke-width="1"/>
<text x="139.9" y="1010" font-size="15.45" text-anchor="start">0.0006 %/S</text>
<line x1="109" y1="1026" x2="137.5" y2="1026" stroke="#1ca9ec" stroke-width="1.6"/>
<polygon points="122.5,1022.0 118.7,1028.9 126.3,1028.9" fill="#fff" stroke="#1ca9ec" stroke-width="1" stroke-linejoin="miter"/>
<text x="139.9" y="1031" font-size="15.45" text-anchor="start">0.1 %/S</text>
<line x1="109" y1="1047.5" x2="137.5" y2="1047.5" stroke="#ff0000" stroke-width="1.6"/>
<rect x="119.0" y="1044.0" width="7.0200000000000005" height="7.0200000000000005" fill="#fff" stroke="#ff0000" stroke-width="1"/>
<text x="139.9" y="1052.5" font-size="15.45" text-anchor="start">2.5 %/S</text>
<line x1="109" y1="1068.5" x2="115" y2="1068.5" stroke="#ff0000" stroke-width="1.6"/>
<line x1="128.5" y1="1068.5" x2="135.0" y2="1068.5" stroke="#ff0000" stroke-width="1.6"/>
<rect x="119.0" y="1065.0" width="7.0200000000000005" height="7.0200000000000005" fill="#ff0000" stroke="#ff0000" stroke-width="1"/>
<text x="139.9" y="1073.5" font-size="15.45" text-anchor="start">2.5 %/S (repeat.)</text>
</svg>
</body></html>
